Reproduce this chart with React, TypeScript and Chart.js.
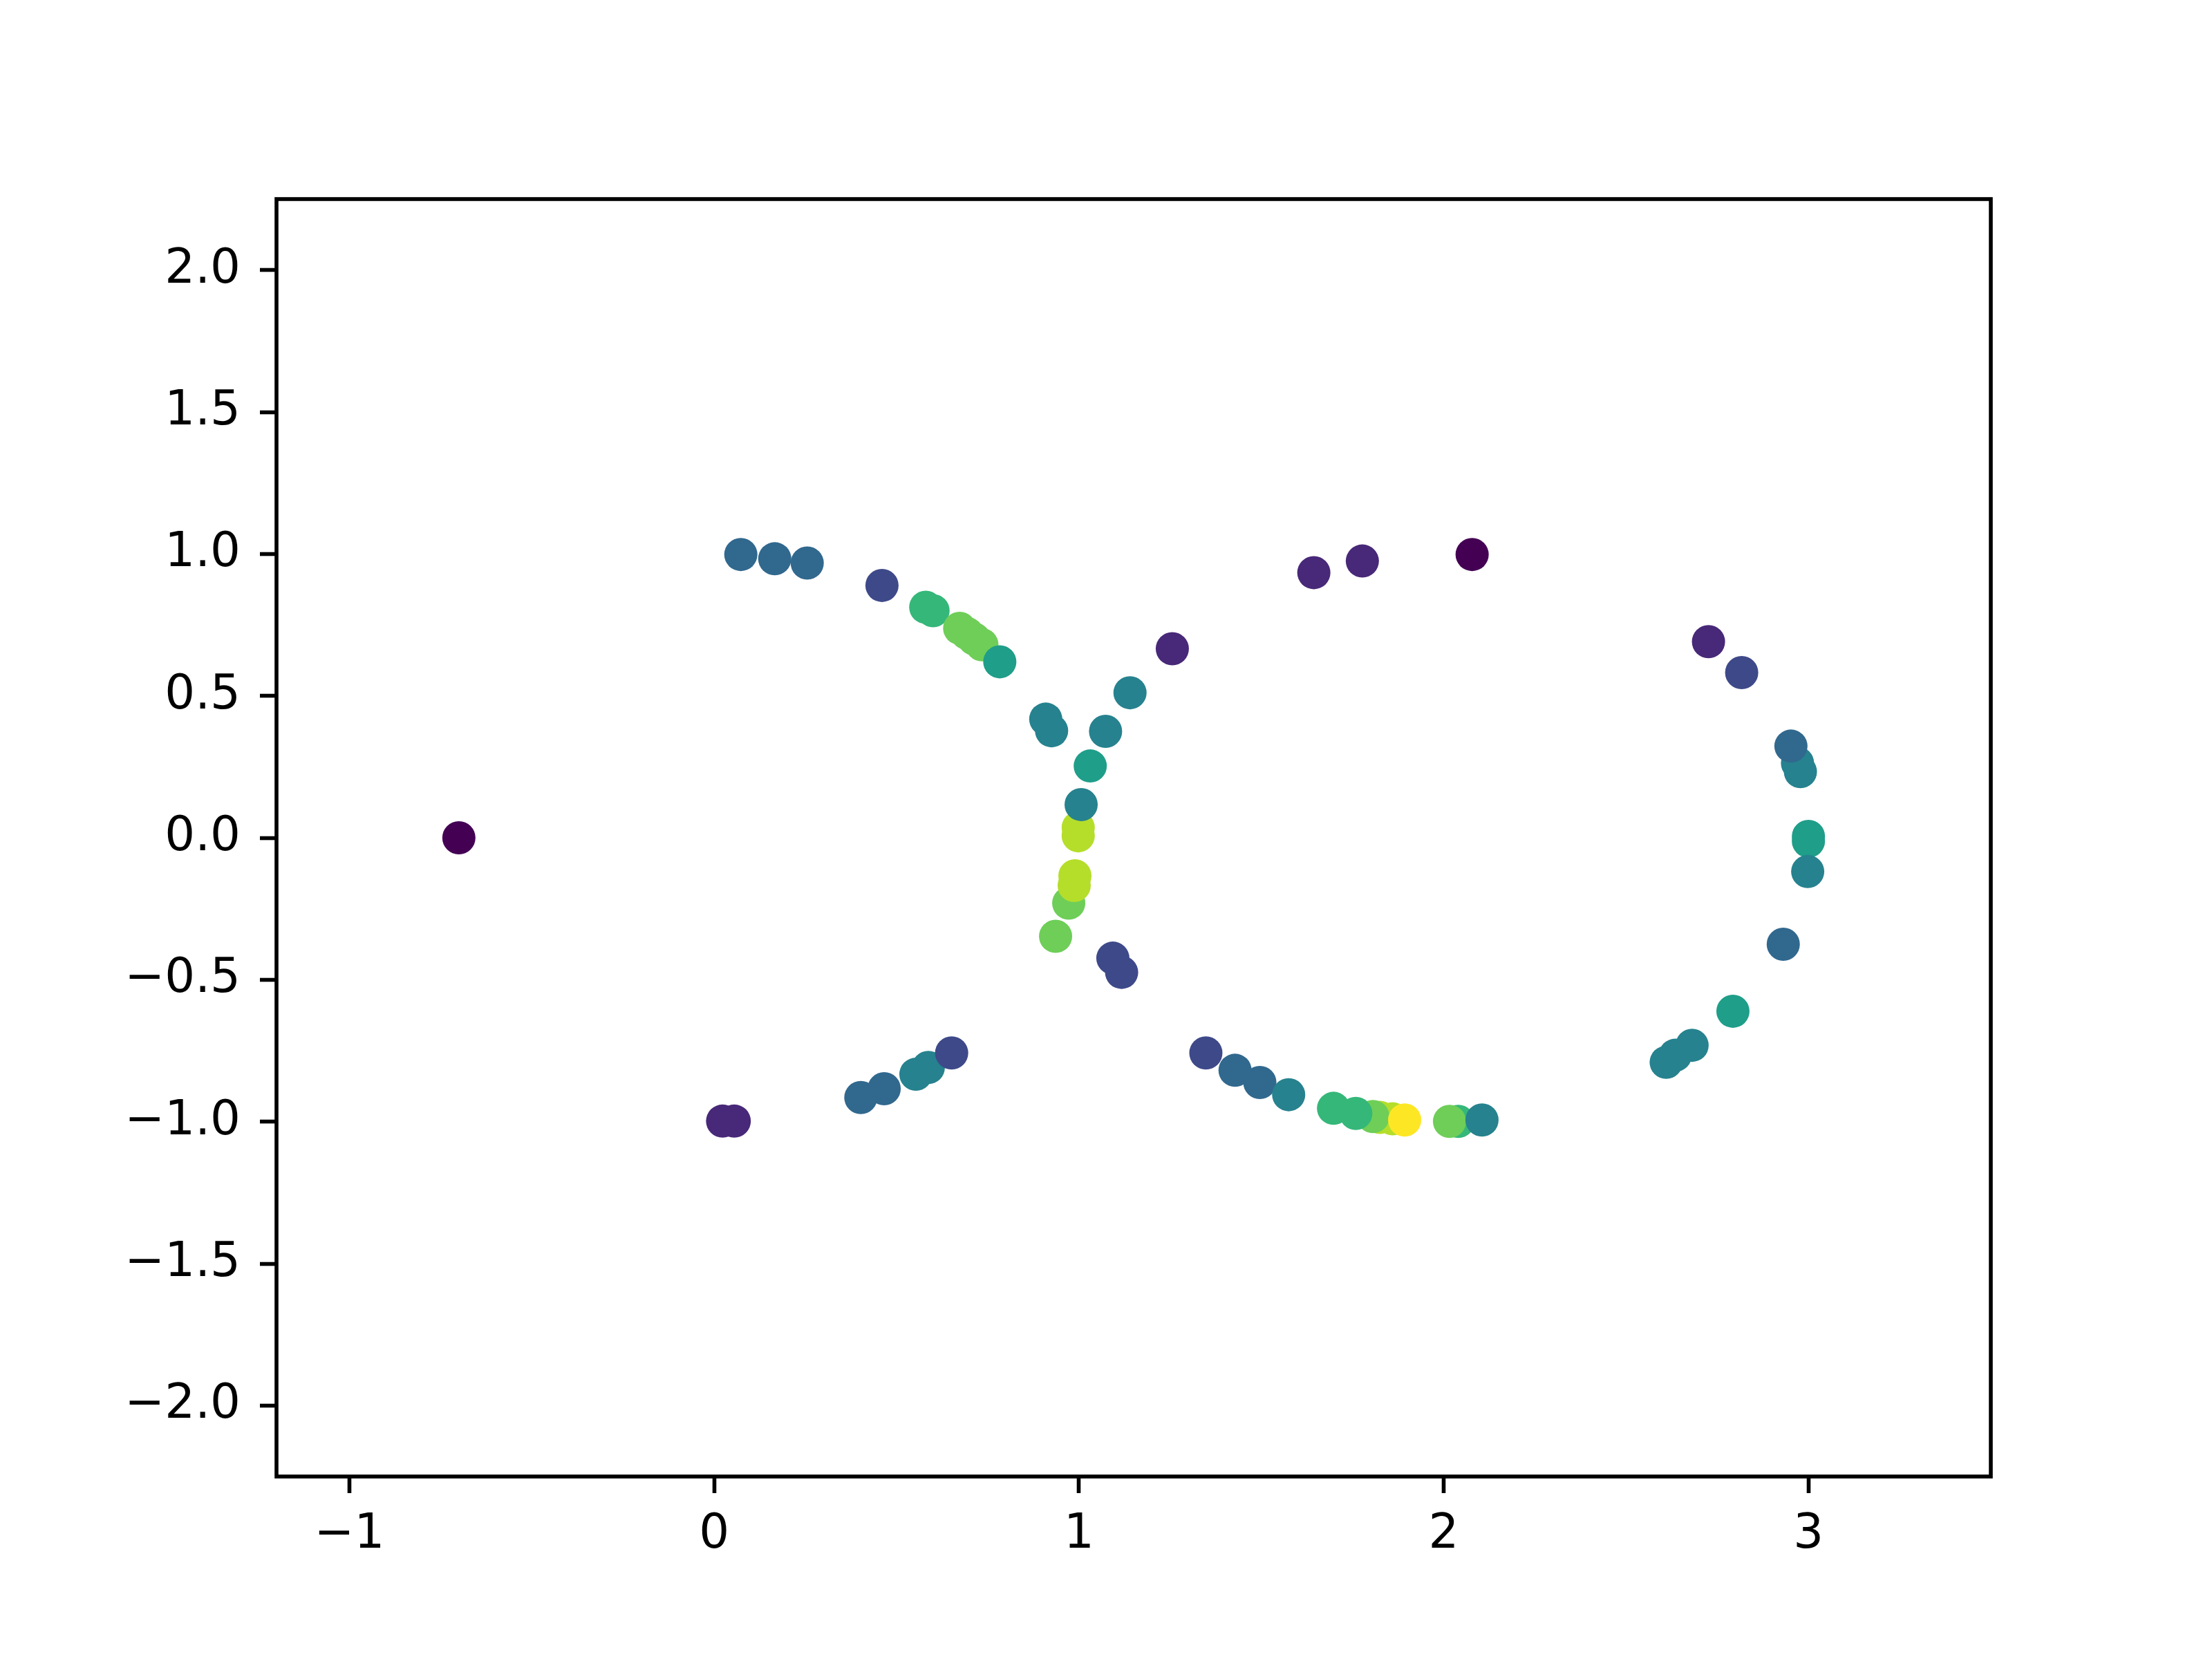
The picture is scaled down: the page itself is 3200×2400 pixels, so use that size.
import React, { useEffect, useRef } from "react";
import { Chart, registerables } from "chart.js";

Chart.register(...registerables);

// Scatter points (x, y) and their colour level (index into the viridis palette)
const xValues = [
  -0.7, 0.073, 0.166, 0.255, 0.46, 0.58, 0.6, 0.673, 0.693, 0.713, 0.734, 0.783,
  0.909, 0.925, 1.073, 1.14, 1.256, 1.031, 0.998, 0.998, 1.006, 0.972, 0.989, 0.987,
  0.936, 1.093, 1.117, 0.023, 0.055, 0.402, 0.466, 0.587, 0.553, 0.651,
  1.348, 1.428, 1.496, 1.575, 1.698, 1.825, 1.86, 1.806, 1.759, 1.893, 2.04, 2.016, 2.105,
  1.644, 1.777, 2.078, 2.726, 2.817, 2.978, 2.97, 2.952, 3.0, 3.0, 2.998, 2.931, 2.793,
  2.61, 2.635, 2.681,
];
const yValues = [
  0.0, 0.998, 0.983, 0.968, 0.889, 0.812, 0.8, 0.738, 0.72, 0.7, 0.68, 0.62,
  0.418, 0.377, 0.375, 0.511, 0.666, 0.253, 0.036, 0.007, 0.117, -0.23, -0.134, -0.168,
  -0.347, -0.424, -0.474, -0.998, -0.998, -0.915, -0.884, -0.809, -0.833, -0.758,
  -0.758, -0.819, -0.862, -0.905, -0.953, -0.985, -0.99, -0.982, -0.971, -0.994, -0.999, -0.999, -0.994,
  0.934, 0.975, 0.998, 0.691, 0.582, 0.233, 0.263, 0.323, 0.005, -0.012, -0.119, -0.375, -0.611,
  -0.791, -0.766, -0.731,
];
const colorLevels = [
  0, 3, 3, 3, 2, 6, 6, 7, 7, 7, 7, 5,
  4, 4, 4, 4, 1, 5, 8, 8, 4, 7, 8, 8,
  7, 2, 2, 1, 1, 3, 3, 4, 4, 2,
  2, 3, 3, 4, 6, 8, 8, 7, 6, 9, 6, 7, 4,
  1, 1, 0, 1, 2, 4, 4, 3, 5, 5, 4, 3, 5,
  4, 4, 4,
];

const xTicks = [-1, 0, 1, 2, 3];
const yTicks = [-2, -1.5, -1, -0.5, 0, 0.5, 1, 1.5, 2];

const VIRIDIS = [
  "#440154", "#482878", "#3e4989", "#31688e", "#26828e",
  "#1f9e89", "#35b779", "#6ece58", "#b5de2b", "#fde725",
];

const fmtX = (v: number) => String(v).replace("-", "\u2212");
const fmtY = (v: number) => v.toFixed(1).replace("-", "\u2212");

const frame = {
  id: "frame",
  afterDraw(chart: any) {
    const { ctx, chartArea } = chart;
    ctx.save();
    ctx.strokeStyle = "#000";
    ctx.lineWidth = 5.6;
    ctx.strokeRect(chartArea.left, chartArea.top, chartArea.right - chartArea.left, chartArea.bottom - chartArea.top);
    ctx.restore();
  },
};

export default function App() {
  const ref = useRef<HTMLCanvasElement>(null);
  useEffect(() => {
    const canvas = ref.current;
    if (!canvas) return;
    const font = { family: "'DejaVu Sans', sans-serif", size: 69 };
    const grid = {
      display: true,
      drawOnChartArea: false,
      drawTicks: true,
      tickLength: 24,
      tickWidth: 5.6,
      tickColor: "#000",
    };
    const chart = new Chart(canvas, {
      type: "scatter",
      data: {
        datasets: [
          {
            data: xValues.map((x, i) => ({ x, y: yValues[i] })),
            pointBackgroundColor: colorLevels.map((l) => VIRIDIS[l]),
            pointBorderWidth: 0,
            pointRadius: 24,
            pointHoverRadius: 24,
            clip: false as any,
          },
        ],
      },
      plugins: [frame],
      options: {
        responsive: false,
        animation: false,
        events: [],
        layout: { padding: { top: 288, right: 320, left: 0, bottom: 0 } },
        plugins: { legend: { display: false }, tooltip: { enabled: false } },
        scales: {
          x: {
            type: "linear",
            min: -1.2,
            max: 3.5,
            afterBuildTicks: (s: any) => {
              s.ticks = xTicks.map((v) => ({ value: v }));
            },
            afterFit: (s: any) => {
              s.height = 264;
            },
            grid,
            border: { display: false },
            ticks: {
              font,
              color: "#000",
              padding: 20,
              maxRotation: 0,
              autoSkip: false,
              callback: (v: any) => fmtX(Number(v)),
            },
          },
          y: {
            type: "linear",
            min: -2.25,
            max: 2.25,
            afterBuildTicks: (s: any) => {
              s.ticks = yTicks.map((v) => ({ value: v }));
            },
            afterFit: (s: any) => {
              s.width = 400;
            },
            grid,
            border: { display: false },
            ticks: {
              font,
              color: "#000",
              padding: 28,
              autoSkip: false,
              callback: (v: any) => fmtY(Number(v)),
            },
          },
        },
      } as any,
    });
    return () => chart.destroy();
  }, []);
  return (
    <div style={{ position: "fixed", left: 0, top: 0, width: 3200, height: 2400, background: "#fff" }}>
      <canvas ref={ref} width={3200} height={2400} style={{ width: 3200, height: 2400, display: "block" }} />
    </div>
  );
}
